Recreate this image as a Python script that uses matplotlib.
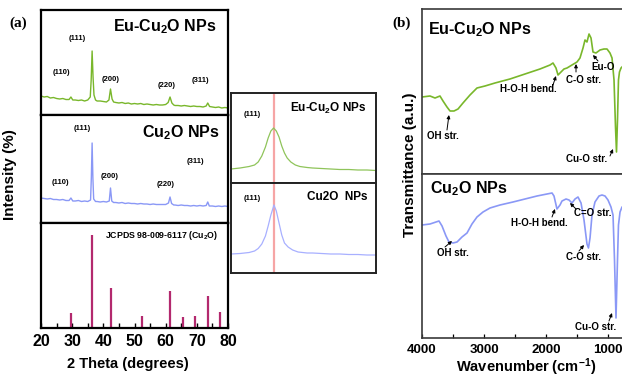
import matplotlib
matplotlib.use("Agg")
import matplotlib.pyplot as plt
import numpy as np

plt.rcParams['font.family'] = ['Liberation Sans', 'DejaVu Sans']
plt.rcParams['font.weight'] = 'bold'
plt.rcParams['mathtext.fontset'] = 'custom'
plt.rcParams['mathtext.rm'] = 'Liberation Sans:bold'
plt.rcParams['mathtext.it'] = 'Liberation Sans:bold'
plt.rcParams['mathtext.bf'] = 'Liberation Sans:bold'

# ---------------- XRD data ----------------
xrd_eu_2t = [20, 21, 22, 23, 24, 25, 26, 27, 28, 29, 29.6, 30.2, 31, 32, 33, 34, 35, 35.8, 36.1, 36.4,
             36.7, 37.0, 37.5, 38, 39, 40, 41, 41.8, 42.3, 42.8, 43.3, 44, 45, 46, 47, 48, 49, 50, 51,
             52, 53, 54, 55, 56, 57, 58, 59, 60, 60.8, 61.4, 62, 62.6, 63, 64, 65, 66, 67, 68, 69, 70,
             71, 72, 73, 73.5, 74.1, 75, 76, 77, 78, 79, 80]
xrd_eu_int = [19, 18, 18.5, 17, 17.5, 16.5, 16, 16.5, 15.5, 15.5, 18, 15, 15, 14.5, 15, 14, 15, 18, 35, 64,
              38, 20, 15, 14, 14, 13.5, 13, 15, 26, 16, 13, 12.5, 12, 12.5, 11.5, 12, 11, 11.5, 11,
              11.5, 10.5, 11, 10.5, 10, 10.5, 10, 10, 10.5, 12.5, 18, 12, 10, 9.5, 9.5, 9, 9.5, 9, 8.5, 9, 8.5,
              8.5, 8, 9, 12, 8.5, 8, 7.5, 8, 7, 7.5, 7]

xrd_cu_2t = [20, 21, 22, 23, 24, 25, 26, 27, 28, 29, 29.6, 30.2, 31, 32, 33, 34, 35, 35.9, 36.15, 36.4,
             36.65, 36.9, 37.5, 38, 39, 40, 41, 41.9, 42.3, 42.7, 43.3, 44, 45, 46, 47, 48, 49, 50, 51,
             52, 53, 54, 55, 56, 57, 58, 59, 60, 60.9, 61.4, 61.9, 62.6, 63, 64, 65, 66, 67, 68, 69, 70,
             71, 72, 73, 73.5, 74.0, 75, 76, 77, 78, 79, 80]
xrd_cu_int = [25, 24.5, 24, 24.5, 23.5, 23.5, 23, 23.5, 22.5, 22.5, 25, 22, 22, 22.5, 21.5, 22, 21.5, 23, 45, 80,
              45, 24, 21.5, 21.5, 21, 21.5, 21, 22, 35, 22, 20.5, 20.5, 20, 20.5, 19.5, 20, 19.5, 19.5, 19,
              19.5, 19, 19, 18.5, 19, 18.5, 18.5, 18.5, 18.5, 20, 26, 19.5, 18, 18, 17.5, 18, 17.5, 17.5, 17, 17.5, 17,
              17.5, 17, 17.5, 21, 17, 17, 16.5, 17, 16.5, 17, 16.5]

jcpds_2t = [29.6, 36.4, 42.3, 52.4, 61.4, 65.5, 69.5, 73.5, 77.4]
jcpds_int = [15, 93, 40, 12, 37, 11, 12, 32, 16]

hkl_labels = ['(110)', '(111)', '(200)', '(220)', '(311)']

# ---------------- Inset (111) data ----------------
ins_eu_2t = [34.0, 34.5, 35.0, 35.3, 35.5, 35.7, 35.9, 36.05, 36.2, 36.35, 36.5, 36.65, 36.8, 36.95,
             37.1, 37.3, 37.55, 37.8, 38.2, 38.5, 39, 39.5, 40, 40.5, 41, 41.5, 42]
ins_eu_int = [14, 15, 16.5, 18, 21, 27, 36, 45, 52, 55, 52, 46, 37, 30,
              25, 21, 18, 16.5, 15.5, 15, 14.5, 14, 13.5, 13.5, 13, 13, 12.5]
ins_cu_2t = [34.0, 34.5, 35.0, 35.3, 35.5, 35.7, 35.9, 36.05, 36.2, 36.37, 36.5, 36.65, 36.8, 36.95,
             37.15, 37.4, 37.7, 38.2, 38.5, 39, 39.5, 40, 40.5, 41, 41.5, 42]
ins_cu_int = [19, 19.5, 20.5, 22, 24.5, 29, 37, 47, 58, 68, 62, 50, 38, 30,
              26, 23, 21, 20, 20, 19.5, 19, 19, 18.5, 18.5, 18, 18]

# ---------------- FTIR data ----------------
ftir_eu_wn = [4000, 3871, 3790, 3710, 3661, 3597, 3548, 3484, 3419, 3339, 3226, 3113, 2984, 2823, 2581,
              2339, 2097, 1935, 1887, 1839, 1806, 1758, 1710, 1661, 1581, 1500, 1452, 1403, 1371, 1339,
              1306, 1274, 1242, 1194, 1129, 1065, 1016, 968, 935, 903, 879, 863, 847, 831, 815, 790, 758, 710]
ftir_eu_t = [77, 78, 76, 78, 73, 67, 63, 63, 65, 71, 79, 86, 88, 91, 95,
             100, 105, 109, 111, 106, 99, 102, 105, 106, 109, 112, 116, 126, 134, 132,
             140, 136, 122, 121, 124, 125, 125, 121, 116, 94, 47, 22, 54, 94, 102, 106, 108, 109]

ftir_cu_wn = [4000, 3871, 3774, 3726, 3677, 3613, 3565, 3500, 3435, 3355, 3274, 3194, 3113, 3016, 2903,
              2742, 2532, 2339, 2145, 1984, 1903, 1871, 1823, 1774, 1742, 1677, 1629, 1581, 1532, 1484,
              1435, 1387, 1339, 1315, 1290, 1258, 1210, 1145, 1097, 1048, 1000, 952, 919, 895, 871, 847,
              831, 806, 774, 710]
ftir_cu_t = [113, 114, 116, 117, 112, 102, 96, 95, 96, 101, 105, 114, 121, 126, 130,
             133, 136, 139, 142, 144, 145, 142, 129, 133, 137, 139, 138, 135, 139, 141,
             135, 118, 94, 90, 100, 123, 136, 142, 143, 142, 138, 131, 123, 78, 20, 78,
             113, 126, 131, 133]

# ---------------- styles ----------------
W, H = 622, 377
GREEN = '#79b72b'
BLUE = '#8a98f6'
STICK = '#b3296e'
IGREEN = '#8fc45a'
IBLUE = '#a8b0ff'
RED = '#f6a5a5'

fig = plt.figure(figsize=(W / 100, H / 100), dpi=100)


def px_axes(x0, y0, x1, y1):
    return fig.add_axes([x0 / W, 1 - y1 / H, (x1 - x0) / W, (y1 - y0) / H])


def frame(ax, lw=1.6, color='black'):
    for s in ax.spines.values():
        s.set_linewidth(lw)
        s.set_color(color)
    ax.set_yticks([])


sub_eu = 'Eu-Cu$_2$O NPs'
sub_cu = 'Cu$_2$O NPs'

# XRD top
ax1 = px_axes(41, 10, 228, 115)
ax1.plot(xrd_eu_2t, xrd_eu_int, color=GREEN, lw=1.0)
ax1.set_xlim(20, 80); ax1.set_ylim(0, 105)
frame(ax1); ax1.set_xticks([])
ax1.text(76.4, 88, sub_eu, ha='right', va='center', fontsize=11.5)
for lab, (x, y) in zip(hkl_labels, [(26.4, 42), (31.5, 76), (42.4, 36), (60.4, 30), (71.0, 35)]):
    ax1.text(x, y, lab, ha='center', va='center', fontsize=5.5)

# XRD middle
ax2 = px_axes(41, 115, 228, 223)
ax2.plot(xrd_cu_2t, xrd_cu_int, color=BLUE, lw=1.0)
ax2.set_xlim(20, 80); ax2.set_ylim(0, 108)
frame(ax2); ax2.set_xticks([])
ax2.text(77.4, 90, sub_cu, ha='right', va='center', fontsize=11.5)
for lab, (x, y) in zip(hkl_labels, [(26.1, 41), (33.1, 95), (42.1, 47), (60.1, 39), (69.4, 62)]):
    ax2.text(x, y, lab, ha='center', va='center', fontsize=5.5)

# XRD bottom (reference sticks)
ax3 = px_axes(41, 223, 228, 328)
ax3.vlines(jcpds_2t, 0, jcpds_int, color=STICK, lw=1.6)
ax3.set_xlim(20, 80); ax3.set_ylim(0, 105)
frame(ax3)
ax3.set_xticks(np.arange(20, 81, 10))
ax3.set_xticks(np.arange(25, 80, 10), minor=True)
ax3.tick_params(axis='x', which='both', direction='in', length=3.5, width=1.0, labelsize=11.5, pad=4)
ax3.text(40.5, 92, 'JCPDS 98-009-6117 (Cu$_2$O)', ha='left', va='center', fontsize=6.3)

# Inset
ax4 = px_axes(231, 93, 376, 183)
ax4.plot(ins_eu_2t, ins_eu_int, color=IGREEN, lw=0.9)
ax4.axvline(36.37, color=RED, lw=1.6, zorder=0)
ax4.set_xlim(34, 42); ax4.set_ylim(0, 90)
frame(ax4, lw=1.4, color='#222222'); ax4.set_xticks([])
ax4.text(35.16, 68, '(111)', ha='center', va='center', fontsize=5.5)
ax4.text(39.36, 75, sub_eu, ha='center', va='center', fontsize=8.5)

ax5 = px_axes(231, 183, 376, 273)
ax5.plot(ins_cu_2t, ins_cu_int, color=IBLUE, lw=0.9)
ax5.axvline(36.37, color=RED, lw=1.6, zorder=0)
ax5.set_xlim(34, 42); ax5.set_ylim(0, 90)
frame(ax5, lw=1.4, color='#222222'); ax5.set_xticks([])
ax5.text(35.16, 74, '(111)', ha='center', va='center', fontsize=5.5)
ax5.text(39.86, 76, 'Cu2O  NPs', ha='center', va='center', fontsize=8.5)

# FTIR
WN_RIGHT = 480
x_right = 422 + (4000 - WN_RIGHT) * 0.062

axf1 = px_axes(422, 9, x_right, 174)
axf1.plot(ftir_eu_wn, ftir_eu_t, color=GREEN, lw=1.2)
axf1.set_xlim(4000, WN_RIGHT); axf1.set_ylim(0, 165)
frame(axf1, lw=1.2, color='#3a3a3a'); axf1.set_xticks([])
axf1.text(3903, 144, sub_eu, ha='left', va='center', fontsize=11.5)

axf2 = px_axes(422, 174, x_right, 338)
axf2.plot(ftir_cu_wn, ftir_cu_t, color=BLUE, lw=1.2)
axf2.set_xlim(4000, WN_RIGHT); axf2.set_ylim(0, 164)
frame(axf2, lw=1.2, color='#3a3a3a')
axf2.set_xticks([4000, 3000, 2000, 1000])
axf2.set_xticks([3500, 2500, 1500, 500], minor=True)
axf2.tick_params(axis='x', which='both', direction='in', length=3, width=0.9, labelsize=9.5, pad=4)
axf2.text(3871, 149, sub_cu, ha='left', va='center', fontsize=11.5)

ann_kw = dict(arrowstyle='-|>', lw=0.7, color='black', mutation_scale=5, shrinkA=0, shrinkB=0)
FS = 7


def note(ax, text, tx, ty, a0, a1):
    ax.text(tx, ty, text, ha='center', va='center', fontsize=FS)
    ax.annotate('', xy=a1, xytext=a0, arrowprops=ann_kw)


note(axf1, 'OH str.', 3661, 38, (3597, 44), (3565, 59))
note(axf1, 'H-O-H bend.', 2290, 85, (1887, 89), (1839, 98))
note(axf1, 'C-O str.', 1387, 94, (1516, 102), (1516, 110))
note(axf1, 'Eu-O', 1081, 107, (1161, 113), (1242, 119))
note(axf1, 'Cu-O str.', 1339, 15, (968, 18), (919, 25))

note(axf2, 'OH str.', 3500, 85, (3629, 91), (3516, 97))
note(axf2, 'H-O-H bend.', 2113, 115, (1903, 121), (1855, 129))
note(axf2, 'C=O str.', 1242, 125, (1516, 129), (1613, 135))
note(axf2, 'C-O str.', 1387, 81, (1468, 87), (1387, 93))
note(axf2, 'Cu-O str.', 1194, 11, (984, 17), (935, 25))

# Figure labels
fig.text(10 / W, 1 - 175 / H, 'Intensity (%)', rotation=90, ha='center', va='center', fontsize=11)
fig.text(128 / W, 1 - 364 / H, '2 Theta (degrees)', ha='center', va='center', fontsize=10.5)
fig.text(410 / W, 1 - 165 / H, 'Transmittance (a.u.)', rotation=90, ha='center', va='center', fontsize=11)
fig.text(526 / W, 1 - 367 / H, 'Wavenumber (cm$^{-1}$)', ha='center', va='center', fontsize=10.5)
fig.text(18 / W, 1 - 23 / H, '(a)', ha='center', va='center', fontsize=11,
         family=['Liberation Serif', 'DejaVu Serif'], weight='bold')
fig.text(402 / W, 1 - 23 / H, '(b)', ha='center', va='center', fontsize=11,
         family=['Liberation Serif', 'DejaVu Serif'], weight='bold')

fig.savefig('out.png', dpi=100)
